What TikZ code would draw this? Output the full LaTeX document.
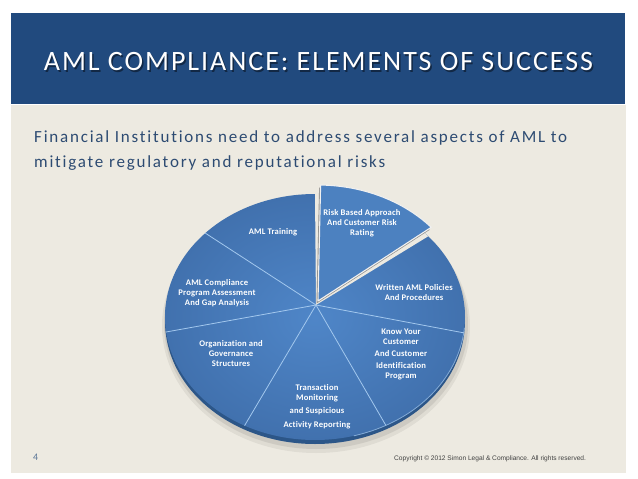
\documentclass[tikz,border=0pt]{standalone}
\usepackage{fontspec}
\setmainfont[Ligatures={NoCommon}]{Carlito}
\newfontfamily\titlefont[LetterSpace=7,Ligatures={NoCommon}]{Carlito}
\newfontfamily\subfont[LetterSpace=10.5,Ligatures={NoCommon}]{Carlito}
\newfontfamily\lblfont[LetterSpace=2,Ligatures={NoCommon}]{Carlito}
\newfontfamily\arialfont{Liberation Sans}
\definecolor{titleblue}{HTML}{214A7E}
\definecolor{beige}{HTML}{EDEAE1}
\definecolor{subtxt}{HTML}{2D4B72}
\definecolor{pieinner}{HTML}{4F86C8}
\definecolor{pieouter}{HTML}{4171AE}
\definecolor{piedark}{HTML}{2C5688}
\definecolor{sepblue}{HTML}{A3C8EE}
\definecolor{foot}{HTML}{404040}
\definecolor{numblue}{HTML}{5A7596}
\begin{document}
\begin{tikzpicture}[x=1pt,y=-1pt,
  lbl/.style={text=white, font=\lblfont\bfseries\fontsize{8.6}{10}\selectfont, align=center, inner sep=0pt},
  sep/.style={draw=sepblue, line width=0.8pt},
  titletext/.style={font=\titlefont\fontsize{28}{34}\selectfont, inner sep=0pt},
  subtext/.style={font=\subfont\fontsize{17}{20}\selectfont, text=subtxt, inner sep=0pt, anchor=base west}]
\useasboundingbox (0,0) rectangle (638,479);
\fill[white] (0,0) rectangle (638,479);
\fill[beige] (11,105) rectangle (626,473);
\fill[titleblue] (11,13) rectangle (625,104);
% title
\node[titletext, text=black, opacity=0.45] (titleshadow) at (320,63.5) {AML COMPLIANCE: ELEMENTS OF SUCCESS};
\node[titletext, text=white] (title) at (318.5,62) {AML COMPLIANCE: ELEMENTS OF SUCCESS};
% subtitle
\node[subtext] (sub1) at (34,142) {Financial Institutions need to address several aspects of AML to};
\node[subtext] (sub2) at (34,167) {mitigate regulatory and reputational risks};
% pie geometry
\coordinate (V) at (316,305);
\coordinate (b137) at ({315+150*cos(137)},{317-123*sin(137)});
\coordinate (b187) at ({315+150*cos(187)},{317-123*sin(187)});
\coordinate (b242) at ({315+150*cos(242)},{317-123*sin(242)});
\coordinate (b298) at ({315+150*cos(298.2)},{317-123*sin(298.2)});
\coordinate (b353) at ({315+150*cos(352.6)},{317-123*sin(352.6)});
% shadow and rim
\fill[black, opacity=0.06] (316,326) ellipse [x radius=154pt, y radius=127pt];
\fill[black, opacity=0.08] (316,324) ellipse [x radius=152pt, y radius=125pt];
\fill[piedark] (315,321) ellipse [x radius=150pt, y radius=123pt];
% top surface
\shade[inner color=pieinner, outer color=pieouter] (315,317) ellipse [x radius=150pt, y radius=123pt];
% gap of the exploded slice
\fill[beige] (V) -- plot[domain=41:90, samples=30] ({315+150*cos(\x)},{317-123*sin(\x)}) -- cycle;
% separators
\draw[sep] (V) -- (b137);
\draw[sep] (V) -- (b187);
\draw[sep] (V) -- (b242);
\draw[sep] (V) -- (b298);
\draw[sep] (V) -- (b353);
\draw[sep, opacity=0.7] plot[domain=-75:-5, samples=40] ({315+150*cos(\x)},{317-123*sin(\x)});
% exploded slice
\coordinate (E) at (318,301);
\fill[black!70, opacity=0.55] ([shift={(-1.5,2.5)}]E) -- plot[domain=41:89, samples=30] ({316.5+150*cos(\x)},{310.5-123*sin(\x)}) -- cycle;
\filldraw[fill=pieinner!96!black, draw=white!88!gray, line width=1.1pt, line join=round] (E) -- plot[domain=41:89, samples=30] ({318+150*cos(\x)},{308-123*sin(\x)}) -- cycle;
% labels
\node[lbl] (risk) at (362,223) {Risk Based Approach\\And Customer Risk\\Rating};
\node[lbl] (training) at (273,232) {AML Training};
\node[lbl] (written) at (414,293) {Written AML Policies\\And Procedures};
\node[lbl] (assess) at (217,293) {AML Compliance\\Program Assessment\\And Gap Analysis};
\node[lbl] (org) at (231,354) {Organization and\\Governance\\Structures};
\node[lbl] (trans) at (317,407) {Transaction\\Monitoring\\[3pt]and Suspicious\\[4pt]Activity Reporting};
\node[lbl] (kyc) at (401,354) {Know Your\\Customer\\[2pt]And Customer\\[2pt]Identification\\Program};
% footer
\node[font=\fontsize{10}{12}\selectfont, text=numblue, anchor=base west, inner sep=0pt] (num) at (33,460) {4};
\node[font=\arialfont\fontsize{6.6}{7.5}\selectfont, text=foot, anchor=base west, inner sep=0pt] (copy) at (394,460) {Copyright \textcopyright{} 2012 Simon Legal \& Compliance. All rights reserved.};
\end{tikzpicture}
\end{document}
